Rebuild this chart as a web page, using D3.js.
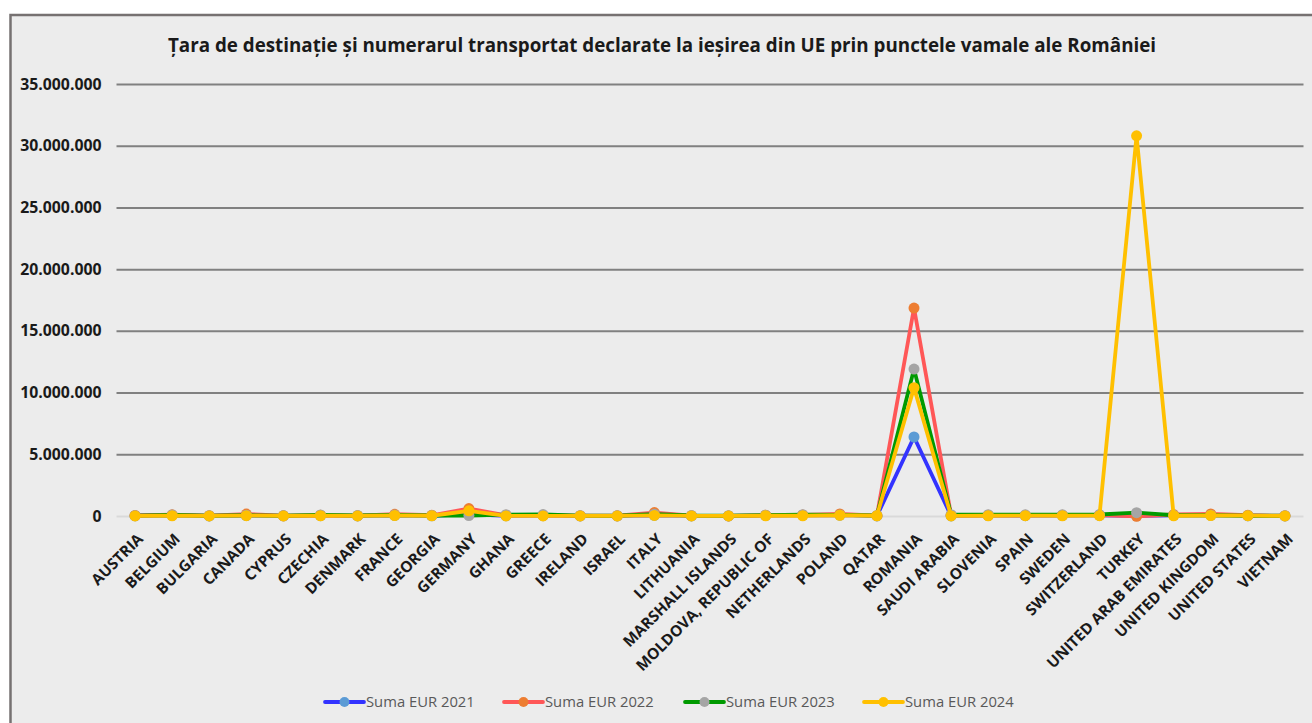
<!DOCTYPE html>
<html>
<head>
<meta charset="utf-8">
<script src="https://cdn.jsdelivr.net/npm/d3@7"></script>
<style>
  html, body { margin: 0; padding: 0; background: #ffffff; }
  svg { display: block; }
</style>
</head>
<body>
<svg id="chart" width="1312" height="723"></svg>
<script>
// Destination countries (x axis categories)
const countries = [
  "AUSTRIA", "BELGIUM", "BULGARIA", "CANADA", "CYPRUS", "CZECHIA", "DENMARK",
  "FRANCE", "GEORGIA", "GERMANY", "GHANA", "GREECE", "IRELAND", "ISRAEL",
  "ITALY", "LITHUANIA", "MARSHALL ISLANDS", "MOLDOVA, REPUBLIC OF",
  "NETHERLANDS", "POLAND", "QATAR", "ROMANIA", "SAUDI ARABIA", "SLOVENIA",
  "SPAIN", "SWEDEN", "SWITZERLAND", "TURKEY", "UNITED ARAB EMIRATES",
  "UNITED KINGDOM", "UNITED STATES", "VIETNAM"
];

// Declared cash amounts (EUR) per year
const eur2021 = [
  20000, 60000, 10000, 40000, 15000, 30000, 10000,
  50000, 20000, 150000, 20000, 30000, 10000, 10000,
  60000, 10000, 5000, 40000,
  60000, 70000, 10000, 6400000, 10000, 40000,
  30000, 40000, 60000, 20000, 60000,
  80000, 30000, 10000
];
const eur2022 = [
  40000, 100000, 30000, 160000, 20000, 60000, 30000,
  140000, 60000, 600000, 60000, 60000, 20000, 20000,
  280000, 30000, 10000, 60000,
  90000, 170000, 30000, 16850000, 60000, 60000,
  60000, 70000, 80000, -20000, 120000,
  170000, 60000, 20000
];
const eur2023 = [
  30000, 80000, 20000, 60000, 20000, 90000, 40000,
  80000, 40000, 40000, 110000, 120000, 30000, 20000,
  150000, 40000, 20000, 70000,
  110000, 90000, 40000, 11900000, 110000, 110000,
  100000, 100000, 120000, 270000, 60000,
  60000, 20000, 20000
];
const eur2024 = [
  10000, 20000, 10000, 30000, 10000, 20000, 10000,
  40000, 20000, 420000, 10000, 10000, 10000, 10000,
  50000, 10000, 10000, 20000,
  20000, 60000, 20000, 10400000, 10000, 20000,
  30000, 20000, 30000, 30800000, 20000,
  40000, 30000, 10000
];

const yTicks = [0, 5000000, 10000000, 15000000, 20000000, 25000000, 30000000, 35000000];

const chartTitle = "Țara de destinație și numerarul transportat declarate la ieșirea din UE prin punctele vamale ale României";

const seriesNames = ["Suma EUR 2021", "Suma EUR 2022", "Suma EUR 2023", "Suma EUR 2024"];
const seriesValues = [eur2021, eur2022, eur2023, eur2024];
const lineColors = ["#3333ff", "#ff5757", "#009a00", "#ffc000"];
const markerColors = ["#5b9bd5", "#ed7d31", "#a5a5a5", "#ffc000"];

const svg = d3.select("#chart");
const W = 1312, H = 723;
const font = "'Open Sans', sans-serif";

// Chart frame
svg.append("rect")
  .attr("x", 10.5).attr("y", 15).attr("width", W).attr("height", H)
  .attr("fill", "#ececec").attr("stroke", "#767171").attr("stroke-width", 2.5);

// Title
svg.append("text")
  .attr("x", 662).attr("y", 52)
  .attr("text-anchor", "middle")
  .attr("font-family", font).attr("font-weight", "bold").attr("font-size", 18.8)
  .attr("fill", "#1a1a1a")
  .text(chartTitle);

const plot = { left: 116.5, right: 1303.5, top: 84, bottom: 516 };

const x = d3.scaleBand().domain(countries).range([plot.left, plot.right]).padding(0);
const y = d3.scaleLinear().domain([0, 35000000]).range([plot.bottom, plot.top]);
const cx = c => x(c) + x.bandwidth() / 2;

const fmt = v => d3.format(",")(v).replace(/,/g, ".");

// Gridlines and y labels
const yAxis = d3.axisLeft(y).tickValues(yTicks).tickSize(-(plot.right - plot.left)).tickFormat(fmt).tickPadding(15);
const gy = svg.append("g").attr("transform", `translate(${plot.left},0)`).call(yAxis);
gy.select(".domain").remove();
gy.selectAll(".tick line")
  .attr("stroke", d => d === 0 ? "#d9d9d9" : "#808080")
  .attr("stroke-width", 2);
gy.selectAll(".tick text")
  .attr("font-family", font).attr("font-weight", "bold").attr("font-size", 15.8)
  .attr("fill", "#1a1a1a");

// X labels, rotated
const xAxis = d3.axisBottom(x).tickSize(0).tickPadding(0);
const gx = svg.append("g").attr("transform", `translate(0,${plot.bottom})`).call(xAxis);
gx.select(".domain").remove();
gx.selectAll(".tick text")
  .attr("font-family", font).attr("font-weight", "bold").attr("font-size", 15.4)
  .attr("fill", "#1a1a1a")
  .attr("text-anchor", "end")
  .attr("dy", 0)
  .attr("transform", "translate(9,24) rotate(-45)");

// Series lines and markers
const line = d3.line().x((d, i) => cx(countries[i])).y(d => y(d));
seriesValues.forEach((vals, s) => {
  const g = svg.append("g");
  g.append("path")
    .datum(vals)
    .attr("d", line)
    .attr("fill", "none")
    .attr("stroke", lineColors[s])
    .attr("stroke-width", 3.8)
    .attr("stroke-linejoin", "round");
  g.selectAll("circle")
    .data(vals)
    .join("circle")
    .attr("cx", (d, i) => cx(countries[i]))
    .attr("cy", d => y(d))
    .attr("r", 5.5)
    .attr("fill", markerColors[s]);
});

// Legend
const legendX = [325, 504, 685, 864];
const legendY = 702;
seriesNames.forEach((name, s) => {
  const g = svg.append("g").attr("transform", `translate(${legendX[s]},${legendY})`);
  g.append("line").attr("x1", 0).attr("x2", 39).attr("y1", 0).attr("y2", 0)
    .attr("stroke", lineColors[s]).attr("stroke-width", 3.8).attr("stroke-linecap", "round");
  g.append("circle").attr("cx", 19.5).attr("cy", 0).attr("r", 5).attr("fill", markerColors[s]);
  g.append("text").attr("x", 41).attr("y", 0).attr("dy", "0.35em")
    .attr("font-family", font).attr("font-size", 14.8).attr("fill", "#595959")
    .text(name);
});
</script>
</body>
</html>
